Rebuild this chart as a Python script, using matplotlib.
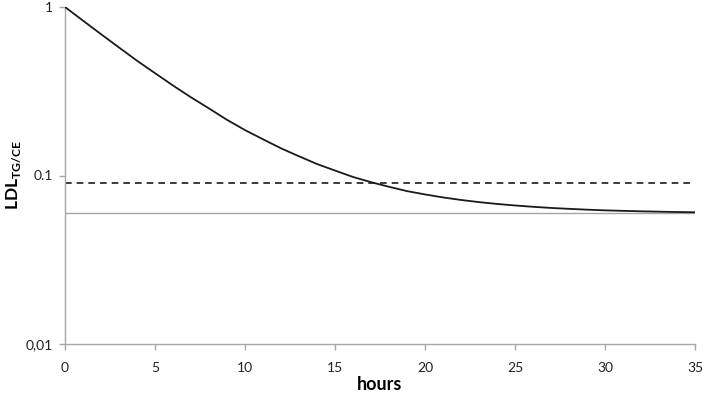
import matplotlib
matplotlib.use("Agg")
import matplotlib.pyplot as plt
from matplotlib.ticker import FixedLocator, NullLocator

hours = list(range(0, 36))
ldl_ratio = [1.0, 0.83, 0.69, 0.575, 0.48, 0.405, 0.342, 0.291, 0.25, 0.214,
             0.186, 0.164, 0.145, 0.13, 0.117, 0.107, 0.098, 0.0913, 0.0857, 0.0808,
             0.0772, 0.0741, 0.0716, 0.0695, 0.0678, 0.0664, 0.0652, 0.0642, 0.0634, 0.0627,
             0.0621, 0.0617, 0.0613, 0.061, 0.0607, 0.0605]
threshold_dashed = 0.09
baseline_gray = 0.06
x_ticks = [0, 5, 10, 15, 20, 25, 30, 35]
y_ticks = [0.01, 0.1, 1]
y_tick_labels = ["0,01", "0.1", "1"]

plt.rcParams['font.family'] = ['Lato', 'DejaVu Sans']

fig = plt.figure(figsize=(7.05, 3.94), dpi=100)
ax = fig.add_axes([65/705, 1-344/394, 630/705, 337/394])

ax.plot(hours, ldl_ratio, color='#1a1a1a', lw=1.3, zorder=3)
ax.plot([hours[0], hours[-1]], [threshold_dashed]*2, color='#1a1a1a', lw=1.2,
        dashes=(4, 3), zorder=2)
ax.plot([hours[0], hours[-1]], [baseline_gray]*2, color='#a6a6a6', lw=1.0, zorder=1)

ax.set_yscale('log')
ax.set_xlim(0, 35)
ax.set_ylim(0.01, 1)
ax.xaxis.set_major_locator(FixedLocator(x_ticks))
ax.yaxis.set_major_locator(FixedLocator(y_ticks))
ax.yaxis.set_minor_locator(NullLocator())
ax.set_yticklabels(y_tick_labels)

for s in ['top', 'right']:
    ax.spines[s].set_visible(False)
for s in ['left', 'bottom']:
    ax.spines[s].set_color('#a6a6a6')
    ax.spines[s].set_linewidth(1.0)
ax.tick_params(axis='both', which='major', color='#a6a6a6', length=4, width=1,
               labelsize=10, labelcolor='#222222', direction='out')
ax.tick_params(axis='x', pad=9)
ax.tick_params(axis='y', pad=5)

ax.set_xlabel('hours', fontsize=13, fontweight='bold')
ax.xaxis.set_label_coords(0.5, -0.095)
ax.set_ylabel(r'LDL$_{\mathregular{TG/CE}}$', fontsize=12.5, fontweight='bold')
ax.yaxis.set_label_coords(-0.066, 0.5)

fig.savefig('out.png', dpi=100)
